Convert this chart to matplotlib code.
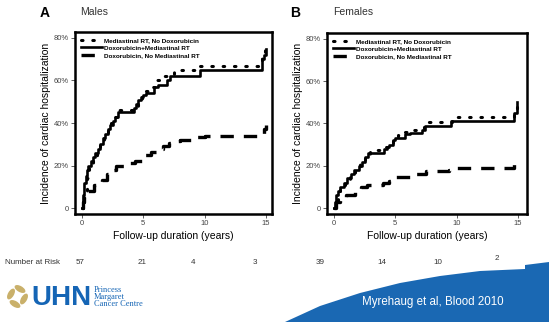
import matplotlib
matplotlib.use("Agg")
import matplotlib.pyplot as plt
from matplotlib.patches import Polygon, Ellipse

plt.rcParams['font.family'] = ['Liberation Sans', 'DejaVu Sans']

# ---- data (years, % cumulative incidence) ----
# Males
a_solid_t = [0, 0.05, 0.1, 0.15, 0.2, 0.3, 0.4, 0.5, 0.7, 0.9, 1.1, 1.3, 1.5, 1.7, 1.9,
             2.1, 2.3, 2.5, 2.7, 2.9, 4.2, 4.4, 4.6, 4.8, 5.0, 5.2, 5.9, 6.2, 6.9, 7.2,
             9.6, 14.7, 14.85, 15.0]
a_solid_v = [0, 3, 6, 9, 12, 15, 18, 20, 22, 24, 26, 28, 30, 33, 35,
             37, 39, 41, 43, 45, 47, 49, 51, 52, 53, 54, 57, 58, 60, 62,
             65, 70, 72, 75]
a_dot_t = [0, 0.1, 0.2, 0.4, 0.6, 0.9, 1.2, 1.5, 1.8, 2.1, 2.4, 2.7, 3.0, 4.3, 4.6, 4.9,
           5.2, 5.6, 6.0, 6.5, 7.0, 7.5, 9.5, 14.7, 14.9]
a_dot_v = [0, 4, 8, 14, 20, 24, 27, 30, 34, 37, 40, 43, 46, 48, 51, 54,
           55, 57, 60, 62, 63, 65, 67, 72, 75]
a_dash_t = [0, 0.1, 0.2, 0.5, 1.0, 1.6, 2.0, 2.5, 2.8, 3.8, 4.3, 5.0, 5.6, 6.0, 6.6, 7.1,
            7.6, 8.0, 9.4, 10.0, 14.8, 15.0]
a_dash_v = [0, 3, 5, 8, 11, 13, 16, 18, 20, 21, 22, 25, 26.5, 28, 29, 30.5,
            31.5, 32, 33.5, 34, 37, 39]
# Females
b_solid_t = [0, 0.1, 0.2, 0.35, 0.5, 0.8, 1.1, 1.4, 1.6, 2.0, 2.3, 2.5, 2.8, 4.1, 4.3,
             4.5, 4.8, 5.0, 5.8, 6.2, 7.2, 7.4, 9.5, 14.7, 14.9]
b_solid_v = [0, 3, 6, 8, 10, 12, 14, 16, 18, 20, 22, 24, 26, 28, 29,
             30, 32, 33, 35, 35.5, 37, 39, 41.3, 45, 50]
b_dot_t = [0, 0.1, 0.3, 0.5, 0.9, 1.3, 1.7, 2.1, 2.5, 2.9, 4.2, 4.5, 4.8, 5.2, 5.6, 6.0,
           7.3, 9.6, 14.7, 14.9]
b_dot_v = [0, 4, 8, 11, 13, 16, 19, 22, 25, 27.5, 29, 31, 33, 34.5, 36, 37,
           40.5, 43, 46, 48]
b_dash_t = [0, 0.2, 0.5, 1.0, 1.7, 2.2, 2.7, 4.0, 4.5, 5.0, 6.2, 7.5, 9.4, 10.0, 14.7, 15.0]
b_dash_v = [0, 3, 5, 6, 8, 10, 11, 12, 13, 14.5, 16, 17.5, 18, 19, 21, 22]

risk_a = ["57", "21", "4", "3"]
risk_b = ["39", "14", "10", "2"]
yticks = [0, 20, 40, 60, 80]
ytick_labels = ["0", "20%", "40%", "60%", "80%"]
xticks = [0, 5, 10, 15]
legend_names = ["Mediastinal RT, No Doxorubicin", "Doxorubicin+Mediastinal RT",
                "Doxorubicin, No Mediastinal RT"]

W, H = 549, 322
fig = plt.figure(figsize=(W / 100, H / 100), dpi=100)


def px(x0, y0, x1, y1):
    # pixel box -> figure fraction [left, bottom, width, height]
    return [x0 / W, 1 - y1 / H, (x1 - x0) / W, (y1 - y0) / H]


def panel(rect, xlim, series):
    ax = fig.add_axes(rect)
    (dt, dv), (st, sv), (ht, hv) = series
    ax.plot(dt, dv, drawstyle='steps-post', color='black', lw=2.2,
            linestyle=(0, (0.5, 3.2)), dash_capstyle='round', label=legend_names[0])
    ax.plot(st, sv, drawstyle='steps-post', color='black', lw=1.9,
            label=legend_names[1])
    ax.plot(ht, hv, drawstyle='steps-post', color='black', lw=2.4,
            linestyle=(0, (4, 3)), label=legend_names[2])
    ax.set_xlim(*xlim)
    ax.set_ylim(-2.8, 82.8)
    ax.set_xticks(xticks)
    ax.set_yticks(yticks)
    ax.set_yticklabels(ytick_labels)
    ax.tick_params(labelsize=5.5, length=3, width=0.6, pad=1.5, colors='#444444')
    for s in ax.spines.values():
        s.set_linewidth(1.8)
    ax.set_xlabel("Follow-up duration (years)", fontsize=7.5, labelpad=3)
    ax.set_ylabel("Incidence of cardiac hospitalization", fontsize=7.5, labelpad=2)
    ax.legend(loc='upper left', frameon=False,
              prop={'weight': 'bold', 'size': 4.6}, handlelength=3.3,
              borderaxespad=0.5, labelspacing=0.3, handletextpad=0.3)
    return ax


axA = panel(px(75, 32, 272, 214), (-0.57, 15.49),
            [(a_dot_t, a_dot_v), (a_solid_t, a_solid_v), (a_dash_t, a_dash_v)])
axB = panel(px(327, 33, 527, 214), (-0.57, 15.73),
            [(b_dot_t, b_dot_v), (b_solid_t, b_solid_v), (b_dash_t, b_dash_v)])

# panel titles
fig.text(40 / W, 1 - 13 / H, "A", fontsize=10, fontweight='bold', va='center')
fig.text(80 / W, 1 - 12 / H, "Males", fontsize=7.5, va='center', color='#333333')
fig.text(290 / W, 1 - 13 / H, "B", fontsize=10, fontweight='bold', va='center')
fig.text(333 / W, 1 - 12 / H, "Females", fontsize=7.5, va='center', color='#333333')

# number at risk row
fig.text(5 / W, 1 - 262 / H, "Number at Risk", fontsize=5.8, va='center', color='#333333')
for x, lab in zip([80, 142, 193, 255], risk_a):
    fig.text(x / W, 1 - 262 / H, lab, fontsize=5.8, va='center', ha='center', color='#333333')
for x, lab in zip([320, 382, 438, 497], risk_b):
    yy = 258 if lab == "2" else 262
    fig.text(x / W, 1 - yy / H, lab, fontsize=5.8, va='center', ha='center', color='#333333')

# blue swoosh in the lower right
bg = fig.add_axes([0, 0, 1, 1], zorder=-1)
bg.set_xlim(0, W)
bg.set_ylim(H, 0)
bg.axis('off')
blue = '#1a68b3'
bg.add_patch(Polygon([(285, 322), (320, 306), (360, 293), (400, 283), (440, 276),
                      (480, 271), (525, 269), (525, 265), (549, 262), (549, 322)],
                     closed=True, facecolor=blue, edgecolor='none'))
fig.text(433 / W, 1 - 302 / H, "Myrehaug et al, Blood 2010", fontsize=8.3,
         color='white', ha='center', va='center')

# logo
gold = '#c9b06a'
for ang, (cx, cy) in zip([30, 120, 210, 300], [(20, 289), (11, 294), (15, 304), (24, 299)]):
    bg.add_patch(Ellipse((cx, cy), 12, 6, angle=ang, facecolor=gold, edgecolor='none'))
fig.text(31 / W, 1 - 298 / H, "UHN", fontsize=20, fontweight='bold', color='#1565b5',
         va='center', ha='left')
fig.text(94 / W, 1 - 297 / H, "Princess\nMargaret\nCancer Centre", fontsize=6.0,
         family=['Liberation Serif'], color='#1565b5', va='center', ha='left',
         linespacing=0.9)

fig.savefig("out.png", dpi=100)
